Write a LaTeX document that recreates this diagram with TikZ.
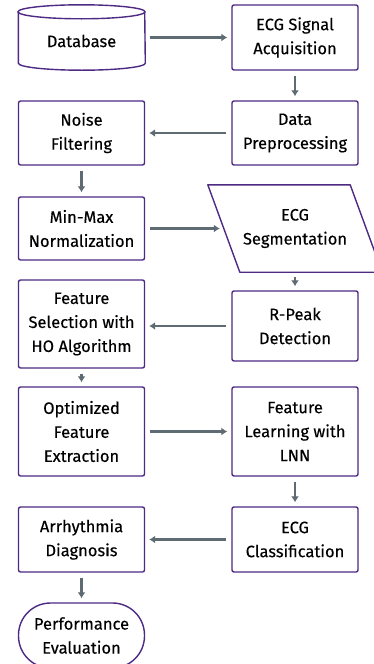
\documentclass[tikz,border=0pt]{standalone}
\usepackage{fontspec}
\setmainfont{Fira Sans}
\newfontfamily\boxfont{Fira Sans}[FakeBold=0.3]
\usetikzlibrary{arrows.meta}

\definecolor{boxpurple}{HTML}{4E2A84}
\definecolor{flowgray}{HTML}{5F6B73}

\begin{document}
\begin{tikzpicture}[x=1pt, y=-1pt,
    box/.style={draw=boxpurple, line width=1.4pt, rounded corners=2pt, fill=white,
        align=center, minimum width=126pt, inner sep=2pt,
        font=\boxfont\fontsize{16.5}{24}\selectfont},
    plain/.style={align=center, minimum width=126pt, inner sep=2pt,
        font=\boxfont\fontsize{16.5}{24}\selectfont},
    boxline/.style={draw=boxpurple, line width=1.4pt},
    flow/.style={draw=flowgray, line width=2.2pt, -{Latex[length=6pt,width=8pt]},
        shorten <=5pt, shorten >=4pt}]
\useasboundingbox[fill=white] (0,0) rectangle (373,664);

% Left column
\node[plain, minimum height=58pt] (db) at (81.5,41) {Database};
\node[box, minimum height=64pt] (noise) at (81.5,133) {Noise\\Filtering};
\node[box, minimum height=63pt] (minmax) at (81.5,228.5) {Min-Max\\Normalization};
\node[box, minimum height=88pt] (fs) at (81.5,324) {Feature\\Selection with\\HO Algorithm};
\node[box, minimum height=89pt] (opt) at (81.5,431.5) {Optimized\\Feature\\Extraction};
\node[box, minimum height=65pt] (arr) at (81.5,539.5) {Arrhythmia\\Diagnosis};
\node[box, rounded corners=32pt, minimum height=65pt] (perf) at (81.5,635.5) {Performance\\Evaluation};

% Right column
\node[box, minimum height=65pt] (acq) at (295,37.5) {ECG Signal\\Acquisition};
\node[box, minimum height=64pt] (prep) at (295,133) {Data\\Preprocessing};
\node[plain, minimum width=142pt, minimum height=87pt] (seg) at (295,228.5) {ECG\\Segmentation};
\node[box, minimum height=70pt] (rpeak) at (295,326) {R-Peak\\Detection};
\node[box, minimum height=89pt] (fl) at (295,431.5) {Feature\\Learning with\\LNN};
\node[box, minimum height=65pt] (cls) at (295,539.5) {ECG\\Classification};

% Database cylinder
\draw[boxline] (db.north west) -- ([yshift=7pt]db.south west)
    arc[start angle=180, end angle=360, x radius=63.5pt, y radius=7pt]
    -- (db.north east);
\draw[boxline] (db.north) ellipse[x radius=63.5pt, y radius=7pt];

% Segmentation parallelogram
\draw[boxline, line join=round] ([xshift=-16pt]seg.north west) -- ([xshift=-16pt]seg.north east)
    -- ([xshift=16pt]seg.south east) -- ([xshift=16pt]seg.south west) -- cycle;

% Flow
\draw[flow] (db.east |- acq.west) -- (acq.west);
\draw[flow] (acq) -- (prep);
\draw[flow] (prep) -- (noise);
\draw[flow] (noise) -- (minmax);
\draw[flow] (minmax) -- (seg);
\draw[flow] (seg) -- (rpeak);
\draw[flow] (rpeak.west) -- (rpeak.west -| fs.east);
\draw[flow] (fs) -- (opt);
\draw[flow] (opt) -- (fl);
\draw[flow] (fl) -- (cls);
\draw[flow] (cls) -- (arr);
\draw[flow] (arr) -- (perf);

\end{tikzpicture}
\end{document}
